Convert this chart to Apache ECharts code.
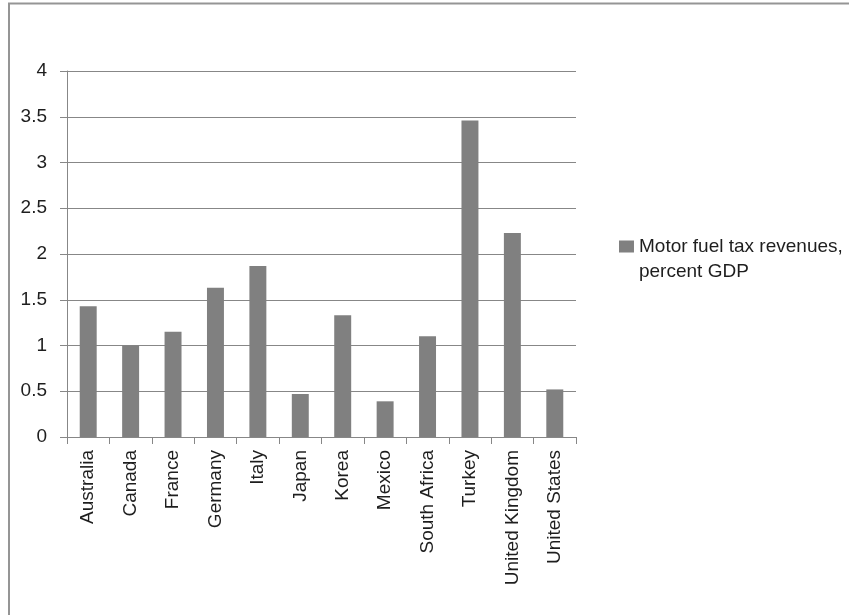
<!DOCTYPE html>
<html>
<head>
<meta charset="utf-8">
<script src="https://cdn.jsdelivr.net/npm/echarts@6/dist/echarts.min.js"></script>
<style>
html,body{margin:0;padding:0;background:#fff;}
#chart{width:849px;height:615px;}
</style>
</head>
<body>
<div id="chart"></div>
<script>
var categories = ['Australia','Canada','France','Germany','Italy','Japan','Korea','Mexico','South Africa','Turkey','United Kingdom','United States'];
var values = [1.43, 1.00, 1.15, 1.63, 1.87, 0.47, 1.33, 0.39, 1.10, 3.46, 2.23, 0.52];
var seriesName = 'Motor fuel tax revenues,\npercent GDP';
var yMin = 0, yMax = 4, yStep = 0.5;

var FONT = '"Liberation Sans", Arial, sans-serif';
var TXT = '#1e1e1e';
var LINE = '#878787';

var chart = echarts.init(document.getElementById('chart'), null, {renderer: 'canvas'});
chart.setOption({
  animation: false,
  backgroundColor: '#fff',
  textStyle: {fontFamily: FONT},
  graphic: [{
    type: 'rect',
    silent: true,
    shape: {x: 9, y: 3.5, width: 900, height: 800},
    style: {fill: 'none', stroke: '#959595', lineWidth: 2}
  }],
  grid: {left: 67, right: 273, top: 71, bottom: 178},
  legend: {
    left: 614,
    top: 229,
    orient: 'vertical',
    icon: 'path://M0,0H15V12H0Z M0,37H0.05V37.05H0Z',
    itemWidth: 15,
    itemHeight: 37,
    selectedMode: false,
    textStyle: {fontFamily: FONT, fontSize: 19, color: TXT, lineHeight: 25},
    data: [seriesName]
  },
  xAxis: {
    type: 'category',
    data: categories,
    boundaryGap: true,
    axisLine: {lineStyle: {color: LINE, width: 1}},
    axisTick: {show: true, length: 7, alignWithLabel: false, lineStyle: {color: LINE}},
    axisLabel: {rotate: 90, interval: 0, margin: 13, fontSize: 19, fontFamily: FONT, color: TXT}
  },
  yAxis: {
    type: 'value',
    min: yMin, max: yMax, interval: yStep,
    axisLine: {show: true, lineStyle: {color: LINE, width: 1}},
    axisTick: {show: true, length: 7, lineStyle: {color: LINE}},
    splitLine: {show: true, lineStyle: {color: LINE, width: 1}},
    axisLabel: {margin: 20, fontSize: 19, fontFamily: FONT, color: TXT}
  },
  series: [{
    name: seriesName,
    type: 'bar',
    data: values,
    barWidth: '40%',
    itemStyle: {color: '#808080'}
  }]
});
</script>
</body>
</html>
